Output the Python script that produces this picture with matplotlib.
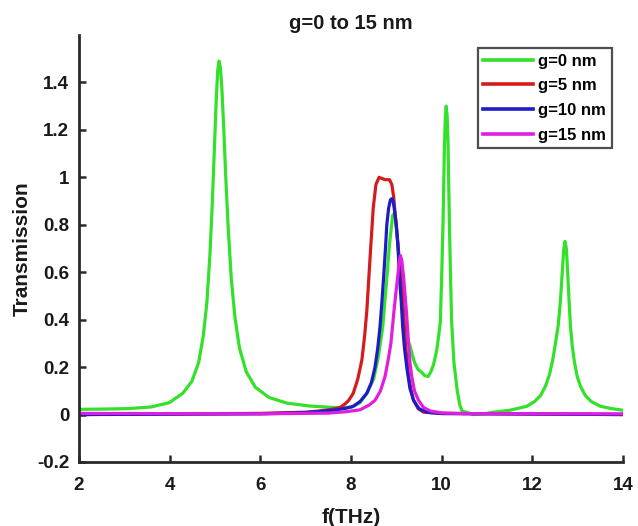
import matplotlib
matplotlib.use("Agg")
import matplotlib.pyplot as plt

# ---- data ----
f_g0 = [2.0, 2.5, 3.09, 3.59, 3.99, 4.29, 4.49, 4.64, 4.74, 4.82, 4.89, 4.94, 4.99, 5.03, 5.06, 5.09,
        5.12, 5.15, 5.19, 5.24, 5.29, 5.36, 5.44, 5.54, 5.69, 5.89, 6.19, 6.59, 7.09, 7.59,
        8.0, 8.2, 8.35, 8.5, 8.6, 8.7, 8.78, 8.85, 8.92, 8.97, 9.02, 9.08, 9.14, 9.2, 9.26, 9.3,
        9.4, 9.48, 9.55, 9.62, 9.7, 9.76, 9.82, 9.89, 9.94, 9.97, 10.0, 10.03, 10.06, 10.08,
        10.1, 10.12, 10.14, 10.17, 10.2, 10.22, 10.27, 10.34, 10.4, 10.45, 10.7, 11.0, 11.14,
        11.5, 11.88, 12.05, 12.18, 12.29, 12.38, 12.45, 12.51, 12.57, 12.62, 12.66, 12.69, 12.72,
        12.75, 12.78, 12.81, 12.84, 12.88, 12.93, 12.99, 13.06, 13.17, 13.3, 13.5, 13.75, 14.0]
T_g0 = [0.022, 0.023, 0.025, 0.032, 0.05, 0.09, 0.14, 0.22, 0.33, 0.47, 0.68, 0.89, 1.14, 1.34, 1.45, 1.49,
        1.46, 1.38, 1.22, 0.99, 0.79, 0.57, 0.41, 0.28, 0.18, 0.115, 0.072, 0.048, 0.036, 0.03,
        0.03, 0.05, 0.09, 0.15, 0.24, 0.37, 0.55, 0.72, 0.84, 0.85, 0.75, 0.58, 0.45, 0.36, 0.31, 0.29,
        0.22, 0.19, 0.18, 0.165, 0.16, 0.18, 0.21, 0.27, 0.34, 0.39, 0.58, 0.81, 1.12, 1.25,
        1.30, 1.26, 1.15, 0.81, 0.55, 0.39, 0.22, 0.106, 0.04, 0.015, 0.0, 0.005, 0.01,
        0.018, 0.035, 0.055, 0.08, 0.12, 0.17, 0.23, 0.30, 0.375, 0.48, 0.60, 0.69, 0.73,
        0.70, 0.60, 0.48, 0.375, 0.29, 0.22, 0.16, 0.12, 0.08, 0.055, 0.035, 0.025, 0.018]

f_g5 = [2.0, 6.0, 7.0, 7.3, 7.5, 7.65, 7.76, 7.87, 7.95, 8.05, 8.15, 8.24, 8.3, 8.35, 8.42, 8.49,
        8.55, 8.62, 8.75, 8.85, 8.9, 8.94, 8.98, 9.03, 9.08, 9.13, 9.2, 9.27, 9.33, 9.38, 9.48,
        9.6, 10.0, 14.0]
T_g5 = [0.0, 0.005, 0.01, 0.015, 0.02, 0.025, 0.03, 0.045, 0.06, 0.09, 0.15, 0.23, 0.33, 0.44, 0.66, 0.87,
        0.97, 1.0, 0.99, 0.99, 0.97, 0.92, 0.83, 0.73, 0.62, 0.52, 0.30, 0.16, 0.10, 0.06, 0.025,
        0.01, 0.005, 0.0]

f_g10 = [2.0, 6.0, 7.0, 7.69, 7.9, 8.05, 8.2, 8.35, 8.45, 8.53, 8.59, 8.64, 8.68, 8.72, 8.76,
         8.79, 8.83, 8.87, 8.90, 8.93, 8.96, 9.0, 9.04, 9.07, 9.11, 9.14, 9.18, 9.23, 9.3, 9.38,
         9.5, 9.67, 10.0, 14.0]
T_g10 = [0.0, 0.003, 0.008, 0.02, 0.027, 0.035, 0.055, 0.09, 0.135, 0.20, 0.28, 0.37, 0.47, 0.58, 0.70,
         0.80, 0.87, 0.905, 0.91, 0.90, 0.86, 0.80, 0.70, 0.58, 0.47, 0.37, 0.28, 0.20, 0.11, 0.06,
         0.025, 0.01, 0.004, 0.0]

f_g15 = [2.0, 6.0, 7.5, 7.9, 8.2, 8.4, 8.53, 8.65, 8.75, 8.82, 8.88, 8.95, 9.0, 9.03, 9.06, 9.09,
         9.12, 9.16, 9.19, 9.22, 9.27, 9.3, 9.34, 9.4, 9.49, 9.6, 9.75, 10.0, 10.5, 14.0]
T_g15 = [0.005, 0.003, 0.006, 0.012, 0.02, 0.04, 0.06, 0.10, 0.16, 0.23, 0.30, 0.44, 0.53, 0.58, 0.64, 0.67,
         0.65, 0.58, 0.51, 0.44, 0.30, 0.22, 0.16, 0.10, 0.06, 0.03, 0.015, 0.007, 0.004, 0.003]

labels = ["g=0 nm", "g=5 nm", "g=10 nm", "g=15 nm"]
colors = ["#33e02a", "#d41c1c", "#1c1cc8", "#e01ee0"]
x_ticks = [2, 4, 6, 8, 10, 12, 14]
y_ticks = [-0.2, 0, 0.2, 0.4, 0.6, 0.8, 1, 1.2, 1.4]
y_tick_labels = ["-0.2", "0", "0.2", "0.4", "0.6", "0.8", "1", "1.2", "1.4"]

plt.rcParams['font.family'] = ['Liberation Sans', 'DejaVu Sans']
plt.rcParams['font.weight'] = 'bold'

fig = plt.figure(figsize=(6.38, 5.26), dpi=100)
ax = fig.add_axes([79/638, 1-462/526, 544/638, 427/526])

series = [(f_g0, T_g0), (f_g5, T_g5), (f_g10, T_g10), (f_g15, T_g15)]
for (fx, ty), lab, c in zip(series, labels, colors):
    ax.plot(fx, ty, color=c, lw=2.3, label=lab, solid_joinstyle='round')

ax.set_xlim(2, 14)
ax.set_ylim(-0.2, 1.6)
ax.set_xticks(x_ticks)
ax.set_xticklabels([str(t) for t in x_ticks])
ax.set_yticks(y_ticks)
ax.set_yticklabels(y_tick_labels)

for s in ['top', 'right']:
    ax.spines[s].set_visible(False)
for s in ['left', 'bottom']:
    ax.spines[s].set_linewidth(2.0)
    ax.spines[s].set_color('#2a2a2a')

ax.tick_params(direction='in', length=5, width=1.8, color='#2a2a2a',
               labelsize=13.5, top=False, right=False)
ax.tick_params(axis='x', pad=11)
ax.tick_params(axis='y', pad=7)
for lab in ax.get_xticklabels() + ax.get_yticklabels():
    lab.set_fontweight('bold')
    lab.set_color('#1a1a1a')

ax.set_xlabel("f(THz)", fontsize=15, fontweight='bold', labelpad=10, color='#1a1a1a')
ax.set_ylabel("Transmission", fontsize=15, fontweight='bold', labelpad=4, color='#1a1a1a')
ax.set_title("g=0 to 15 nm", fontsize=14.5, fontweight='bold', pad=4, color='#1a1a1a')

leg = ax.legend(loc='upper right', bbox_to_anchor=(0.98, 0.97),
                handlelength=3.0, handletextpad=0.3, labelspacing=0.58,
                borderpad=0.35, borderaxespad=0.0, fancybox=False, frameon=True,
                prop={'weight': 'bold', 'size': 12})
leg.get_frame().set_edgecolor('#222222')
leg.get_frame().set_linewidth(1.6)
for line in leg.get_lines():
    line.set_linewidth(2.6)

fig.savefig("out.png", dpi=100)
